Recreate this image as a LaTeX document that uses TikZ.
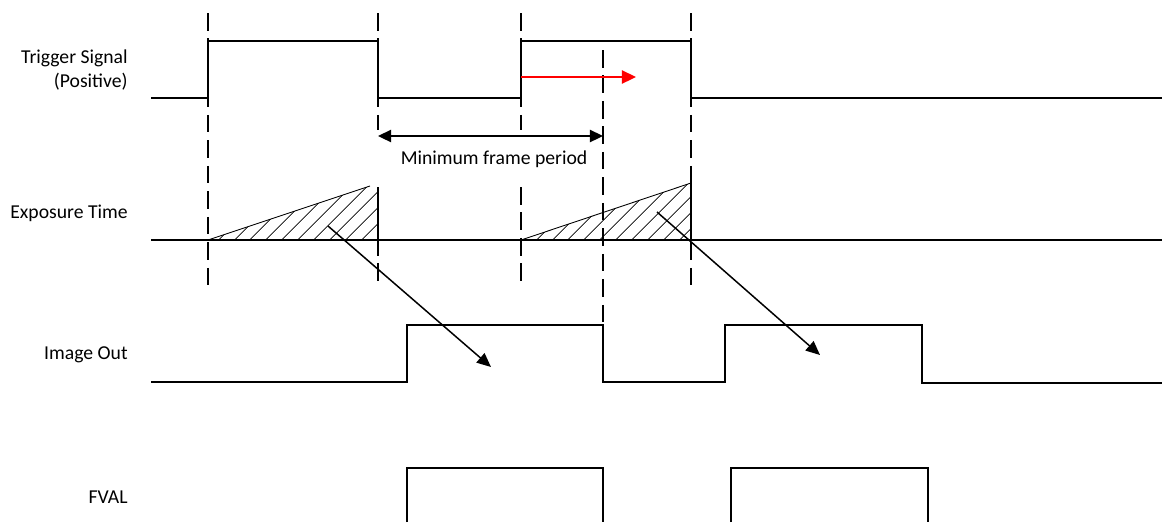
\documentclass[tikz,border=0pt]{standalone}
\usepackage{fontspec}
\setmainfont{Carlito}
\usetikzlibrary{arrows.meta,patterns.meta}
\tikzset{
  sig/.style={line width=1.1pt},
  thinsig/.style={line width=0.85pt},
  guide/.style={line width=0.85pt, dash pattern=on 10pt off 4.5pt},
  lbl/.style={anchor=east, align=right, inner sep=0pt,
    font=\fontsize{11.2}{14.2}\selectfont},
  hatch/.style={pattern={Lines[angle=45,distance=6.4pt,line width=0.55pt]},
    pattern color=black!75},
  link/.style={-{Triangle[length=8pt,width=7pt]}, line width=0.85pt}
}

\begin{document}
\begin{tikzpicture}[x=0.02cm, y=-0.02cm]
  \useasboundingbox (0,0) rectangle (1162,522);
  % signal names
  \node[lbl] (trig) at (128,70) {Trigger Signal\\(Positive)};
  \node[lbl] (expo) at (128,213) {Exposure Time};
  \node[lbl] (img) at (128,355) {Image Out};
  \node[lbl] (fval) at (128,497) {FVAL};
  % exposure ramps
  \fill[hatch] (208,240) -- (370,186) -- (378,187) -- (378,240) -- cycle;
  \draw[line width=0.5pt] (208,240) -- (370,186);
  \fill[hatch] (521,240) -- (691,183) -- (691,240) -- cycle;
  \draw[line width=0.5pt] (521,240) -- (691,183);
  % dashed guides
  \foreach \x/\a/\b in {208/13/285, 378/13/130, 378/187/283, 521/13/130,
                         521/187/283, 691/13/288, 603/50/325}
    \draw[guide] (\x,\a) -- (\x,\b);
  % waveforms
  \draw[sig] (151,98) -- (208,98) -- (208,41) -- (378,41) -- (378,98)
    -- (521,98) -- (521,41) -- (691,41) -- (691,98) -- (1162,98);
  \draw[sig] (151,240) -- (1162,240);
  \draw[sig] (378,187) -- (378,240);
  \draw[sig] (691,183) -- (691,240);
  \draw[thinsig] (151,382) -- (407,382) -- (407,325) -- (603,325) -- (603,382)
    -- (725,382) -- (725,325) -- (922,325) -- (922,383) -- (1162,383);
  \draw[thinsig] (407,522) -- (407,468) -- (603,468) -- (603,522);
  \draw[thinsig] (731,522) -- (731,468) -- (928,468) -- (928,522);
  % delay and period marks
  \coordinate (d0) at (521,77);
  \coordinate (d1) at (636,77);
  \draw[red, line width=1pt, -{Triangle[length=8pt,width=7.5pt]}] (d0) -- (d1);
  \coordinate (p0) at (378,136);
  \coordinate (p1) at (603,136);
  \draw[line width=1pt, {Triangle[length=7.5pt,width=7pt]}-{Triangle[length=7.5pt,width=7pt]}] (p0) -- (p1);
  \node[font=\fontsize{11.2}{14.2}\selectfont] (period) at (494,159) {Minimum frame period};
  % exposure to output
  \coordinate (e1) at (328,226);
  \coordinate (o1) at (491,367);
  \coordinate (e2) at (657,212);
  \coordinate (o2) at (820,355);
  \draw[link] (e1) -- (o1);
  \draw[link] (e2) -- (o2);
\end{tikzpicture}
\end{document}
